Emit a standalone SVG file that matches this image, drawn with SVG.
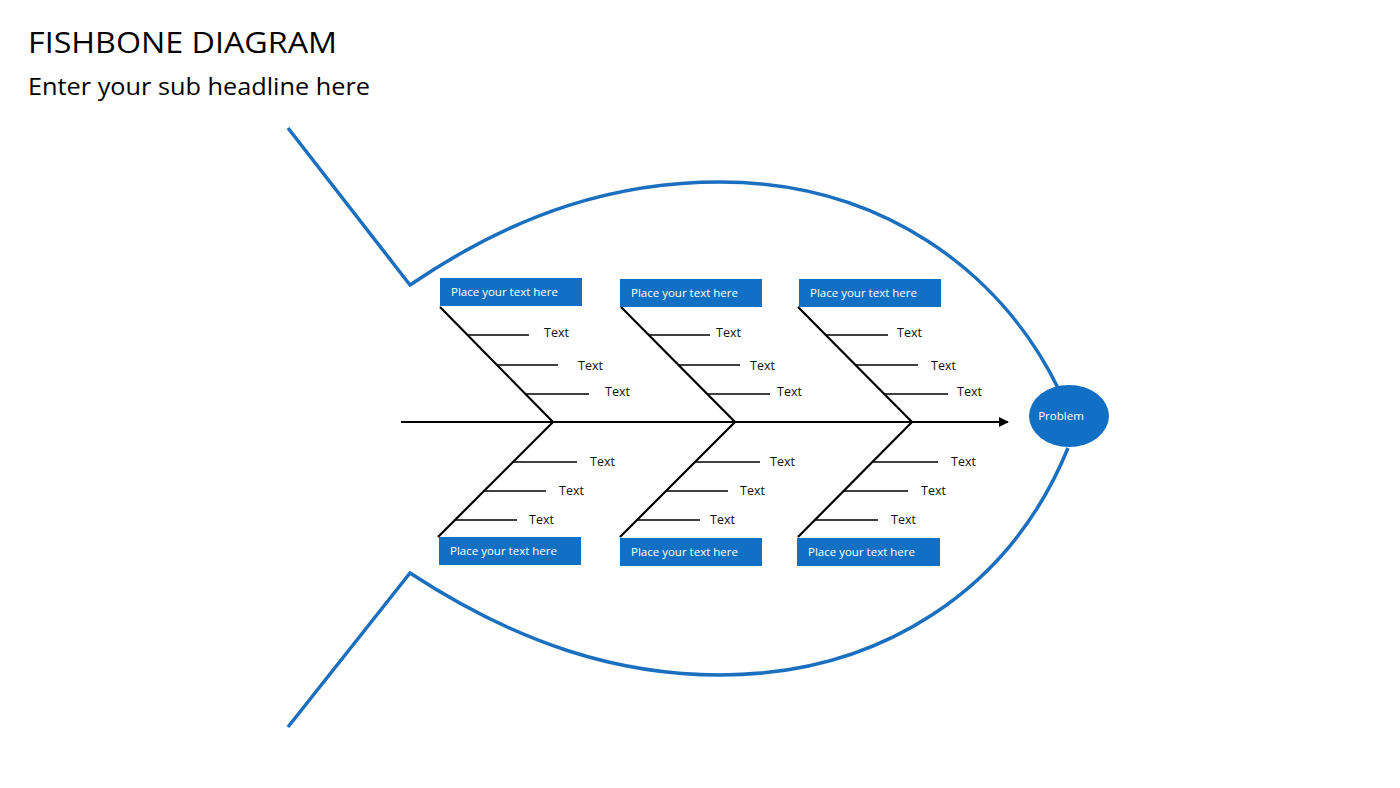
<svg xmlns="http://www.w3.org/2000/svg" width="1400" height="788" viewBox="0 0 1400 788">
<style>
.t{font-family:"Open Sans","Liberation Sans",sans-serif;fill:#000}
.s{font-family:"Open Sans","Liberation Sans",sans-serif;font-size:12.5px;fill:#111}
.b{fill:#1270C4}
.bt{font-family:"Open Sans","Liberation Sans",sans-serif;font-size:11.5px;fill:#fff}
.fish{fill:none;stroke:#1B6FBF;stroke-width:3.5}
.bone{stroke:#000;stroke-width:2.2;fill:none}
.rib{stroke:#000;stroke-width:1.5}
</style>
<defs><marker id="ah" markerWidth="10" markerHeight="10" refX="9" refY="5" orient="auto" markerUnits="userSpaceOnUse"><path d="M0,0 L10,5 L0,10 z" fill="#000"/></marker></defs>
<text class="t" x="28" y="53" font-size="30" textLength="309" lengthAdjust="spacingAndGlyphs">FISHBONE DIAGRAM</text>
<text class="t" x="28" y="95" font-size="24" textLength="342" lengthAdjust="spacingAndGlyphs">Enter your sub headline here</text>
<g id="fish">
<path class="fish" d="M288,128 L410,285 C520,210 620,182 720,182 C880,182 1000,270 1058,388"/>
<path class="fish" d="M288,727 L410,573 C520,645 620,675 720,675 C880,675 1010,590 1068,448"/>
</g>
<g id="connectors">
<line class="bone" x1="401" y1="422" x2="1008" y2="422" marker-end="url(#ah)"/>
<path class="bone" d="M440,307 L553,422 L438,537"/>
<path class="bone" d="M621,307 L735,422 L620,537"/>
<path class="bone" d="M798,307 L912,422 L798,537"/>
<line class="rib" x1="467" y1="335" x2="529" y2="335"/><line class="rib" x1="497" y1="365" x2="558" y2="365"/><line class="rib" x1="526" y1="394" x2="589" y2="394"/>
<line class="rib" x1="513" y1="462" x2="577" y2="462"/><line class="rib" x1="484" y1="491" x2="546" y2="491"/><line class="rib" x1="455" y1="520" x2="517" y2="520"/>
<line class="rib" x1="649" y1="335" x2="710" y2="335"/><line class="rib" x1="679" y1="365" x2="740" y2="365"/><line class="rib" x1="708" y1="394" x2="770" y2="394"/>
<line class="rib" x1="695" y1="462" x2="760" y2="462"/><line class="rib" x1="665" y1="491" x2="728" y2="491"/><line class="rib" x1="637" y1="520" x2="700" y2="520"/>
<line class="rib" x1="826" y1="335" x2="888" y2="335"/><line class="rib" x1="856" y1="365" x2="918" y2="365"/><line class="rib" x1="885" y1="394" x2="948" y2="394"/>
<line class="rib" x1="873" y1="462" x2="938" y2="462"/><line class="rib" x1="844" y1="491" x2="908" y2="491"/><line class="rib" x1="815" y1="520" x2="878" y2="520"/>
</g>
<g id="labels">
<text class="s" x="544" y="337">Text</text><text class="s" x="578" y="370">Text</text><text class="s" x="605" y="396">Text</text>
<text class="s" x="590" y="466">Text</text><text class="s" x="559" y="495">Text</text><text class="s" x="529" y="524">Text</text>
<text class="s" x="716" y="337">Text</text><text class="s" x="750" y="370">Text</text><text class="s" x="777" y="396">Text</text>
<text class="s" x="770" y="466">Text</text><text class="s" x="740" y="495">Text</text><text class="s" x="710" y="524">Text</text>
<text class="s" x="897" y="337">Text</text><text class="s" x="931" y="370">Text</text><text class="s" x="957" y="396">Text</text>
<text class="s" x="951" y="466">Text</text><text class="s" x="921" y="495">Text</text><text class="s" x="891" y="524">Text</text>
</g>
<g id="box1"><rect class="b" x="440" y="278" width="142" height="28"/><text class="bt" x="451" y="296">Place your text here</text></g>
<g id="box2"><rect class="b" x="620" y="279" width="142" height="28"/><text class="bt" x="631" y="297">Place your text here</text></g>
<g id="box3"><rect class="b" x="799" y="279" width="142" height="28"/><text class="bt" x="810" y="297">Place your text here</text></g>
<g id="box4"><rect class="b" x="439" y="537" width="142" height="28"/><text class="bt" x="450" y="555">Place your text here</text></g>
<g id="box5"><rect class="b" x="620" y="538" width="142" height="28"/><text class="bt" x="631" y="556">Place your text here</text></g>
<g id="box6"><rect class="b" x="797" y="538" width="143" height="28"/><text class="bt" x="808" y="556">Place your text here</text></g>
<g id="problem"><ellipse class="b" cx="1069" cy="416" rx="40" ry="31"/><text class="bt" x="1061" y="420" text-anchor="middle">Problem</text></g>
</svg>
